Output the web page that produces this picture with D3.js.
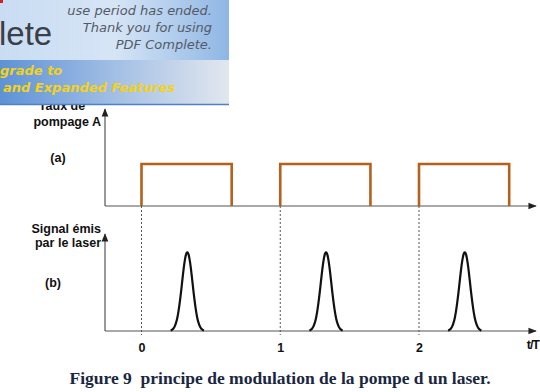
<!DOCTYPE html>
<html>
<head>
<meta charset="utf-8">
<script src="https://cdn.jsdelivr.net/npm/d3@7"></script>
<style>
  html, body { margin: 0; padding: 0; background: #fff; }
  svg { display: block; }
  .lbl { font-family: "Liberation Sans", Arial, sans-serif; font-weight: bold; font-size: 12.5px; fill: #111; }
</style>
</head>
<body>
<svg id="fig" width="540" height="392"></svg>
<script>
// pump periods (in units of T) and emitted pulses
var pumpStart = [0, 1, 2];
var pumpEnd = [0.65, 1.65, 2.65];
var pumpLevel = 1;
var pulseCenter = [0.33, 1.33, 2.33];
var pulsePeak = 1;
var pulseSigma = 0.038;
var tickValues = [0, 1, 2];
var tickLabels = ["0", "1", "2"];

var svg = d3.select("#fig");

var x = d3.scaleLinear().domain([0, 2]).range([141.5, 419]);
var yA = d3.scaleLinear().domain([0, 1]).range([206, 164]);
var yB = d3.scaleLinear().domain([0, 1]).range([331, 252]);

var x0 = 105, xEnd = 536;

var defs = svg.append("defs");
defs.append("marker")
  .attr("id", "arr").attr("viewBox", "0 0 10 10")
  .attr("refX", 9).attr("refY", 5)
  .attr("markerWidth", 7).attr("markerHeight", 7)
  .attr("orient", "auto")
  .append("path").attr("d", "M0,1 L10,5 L0,9 z").attr("fill", "#222");

// dashed guides at t = 0, 1, 2
svg.selectAll("line.guide").data(tickValues).enter().append("line")
  .attr("class", "guide")
  .attr("x1", function(d) { return x(d); }).attr("x2", function(d) { return x(d); })
  .attr("y1", yA(0)).attr("y2", yB(0) + 4)
  .attr("stroke", "#555").attr("stroke-width", 1)
  .attr("stroke-dasharray", "2,2");

// axes
function axes(y, top) {
  svg.append("line").attr("x1", x0).attr("x2", xEnd).attr("y1", y(0)).attr("y2", y(0))
    .attr("stroke", "#555").attr("stroke-width", 1.2).attr("marker-end", "url(#arr)");
  svg.append("line").attr("x1", x0).attr("x2", x0).attr("y1", y(0)).attr("y2", top)
    .attr("stroke", "#555").attr("stroke-width", 1.2).attr("marker-end", "url(#arr)");
}
axes(yA, 109);
axes(yB, 234);

// pump: rectangular pulses
svg.selectAll("path.pump").data(pumpStart).enter().append("path")
  .attr("class", "pump")
  .attr("d", function(d, i) {
    return "M" + x(d) + "," + yA(0) + " L" + x(d) + "," + yA(pumpLevel) +
      " L" + x(pumpEnd[i]) + "," + yA(pumpLevel) + " L" + x(pumpEnd[i]) + "," + yA(0);
  })
  .attr("fill", "none").attr("stroke", "#b5601c").attr("stroke-width", 2.6);

// laser output: narrow pulses
var line = d3.line().x(function(p) { return x(p[0]); }).y(function(p) { return yB(p[1]); }).curve(d3.curveBasis);
svg.selectAll("path.pulse").data(pulseCenter).enter().append("path")
  .attr("class", "pulse")
  .attr("d", function(c) {
    var pts = d3.range(-0.12, 0.1201, 0.005).map(function(dt) {
      return [c + dt, pulsePeak * Math.exp(-dt * dt / (2 * pulseSigma * pulseSigma))];
    });
    return line(pts);
  })
  .attr("fill", "none").attr("stroke", "#111").attr("stroke-width", 2.2);

// tick labels
var xAxis = d3.axisBottom(x).tickValues(tickValues).tickSize(0)
  .tickFormat(function(d, i) { return tickLabels[i]; });
var g = svg.append("g").attr("transform", "translate(0," + (yB(0) + 9) + ")").call(xAxis);
g.select(".domain").remove();
g.selectAll("text").attr("class", "lbl").attr("font-size", null).attr("font-family", null).attr("fill", null);
svg.append("text").attr("class", "lbl").attr("x", 539).attr("y", 349)
  .attr("text-anchor", "end").attr("letter-spacing", "-1").text("t/T");

// panel labels
function label(xx, yy, t, anchor) {
  svg.append("text").attr("class", "lbl").attr("x", xx).attr("y", yy)
    .attr("text-anchor", anchor || "end").text(t);
}
label(62, 110, "Taux de", "middle");
label(101, 126, "pompage A");
label(58, 162, "(a)", "middle");
label(101, 233, "Signal émis");
label(101, 247, "par le laser");
label(53, 287, "(b)", "middle");

// caption
svg.append("text").attr("x", 280).attr("y", 384).attr("text-anchor", "middle")
  .attr("font-family", "'Liberation Serif', 'Times New Roman', serif")
  .attr("font-weight", "bold").attr("font-size", "17.5px").attr("fill", "#1a2740")
  .attr("xml:space", "preserve").style("white-space", "pre")
  .text("Figure 9  principe de modulation de la pompe d un laser.");

// trial-software banner over the top-left corner
var gTop = defs.append("linearGradient").attr("id", "gTop").attr("x1", 0).attr("x2", 1);
gTop.append("stop").attr("offset", 0).attr("stop-color", "#c9dcf2");
gTop.append("stop").attr("offset", 0.5).attr("stop-color", "#d6e5f6");
gTop.append("stop").attr("offset", 1).attr("stop-color", "#8fb6e4");
var gBot = defs.append("linearGradient").attr("id", "gBot").attr("x1", 0).attr("x2", 1);
gBot.append("stop").attr("offset", 0).attr("stop-color", "#5d92d6");
gBot.append("stop").attr("offset", 0.55).attr("stop-color", "#a9c3e6");
gBot.append("stop").attr("offset", 1).attr("stop-color", "#e2e7ee");

var ban = svg.append("g");
ban.append("rect").attr("x", 0).attr("y", 0).attr("width", 229).attr("height", 60).attr("fill", "url(#gTop)");
ban.append("rect").attr("x", 0).attr("y", 60).attr("width", 229).attr("height", 44).attr("fill", "url(#gBot)");
ban.append("line").attr("x1", 0).attr("x2", 229).attr("y1", 104.5).attr("y2", 104.5).attr("stroke", "#4f80c4").attr("stroke-width", 1.5);
ban.append("rect").attr("x", 0).attr("y", 0).attr("width", 3).attr("height", 3).attr("fill", "#d02020");
ban.append("text").attr("x", -1).attr("y", 45)
  .attr("font-family", "'Liberation Sans', Arial, sans-serif").attr("font-size", "33px").attr("fill", "#3a3f48")
  .text("lete");
var msg = ["use period has ended.", "Thank you for using", "PDF Complete."];
ban.selectAll("text.msg").data(msg).enter().append("text")
  .attr("class", "msg").attr("x", 212).attr("y", function(d, i) { return 15 + i * 17; })
  .attr("text-anchor", "end")
  .attr("font-family", "'DejaVu Sans', Verdana, sans-serif").attr("font-style", "italic")
  .attr("font-size", "13px").attr("fill", "#555b66").text(function(d) { return d; });
var up = ["grade to", "and Expanded Features"];
ban.selectAll("text.up").data(up).enter().append("text")
  .attr("class", "up").attr("x", function(d, i) { return i ? 3 : 0; }).attr("y", function(d, i) { return 75 + i * 17; })
  .attr("font-family", "'DejaVu Sans', Verdana, sans-serif").attr("font-style", "italic")
  .attr("font-weight", "bold").attr("font-size", "13px").attr("fill", "#f2d21a").text(function(d) { return d; });
</script>
</body>
</html>
